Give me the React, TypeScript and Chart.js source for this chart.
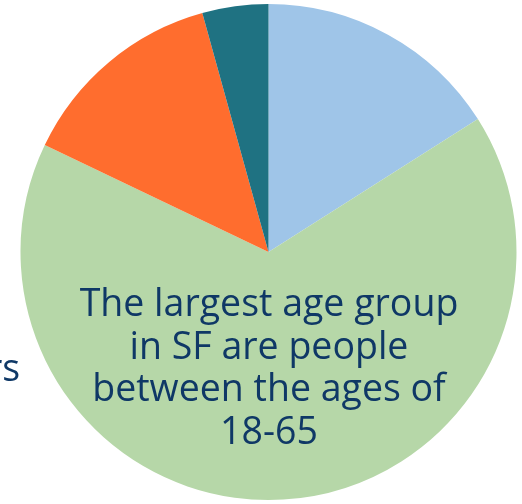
import React, { useEffect, useRef } from "react";
import { Chart, registerables } from "chart.js";

Chart.register(...registerables);

const categories = ["Under 18", "18-65", "Over 65", "Under 5"];
const shares = [16.0, 66.1, 13.6, 4.3];
const colors = ["#9fc5e8", "#b6d7a8", "#ff6d2e", "#1f7282"];
const captionLines = ["The largest age group", "in SF are people", "between the ages of", "18-65"];
const sideText = "rs";

export default function App() {
  const ref = useRef<HTMLCanvasElement | null>(null);

  useEffect(() => {
    document.body.style.margin = "0";
    const ctx = ref.current!.getContext("2d")!;
    const chart = new Chart(ctx, {
      type: "pie",
      data: {
        labels: categories,
        datasets: [
          {
            data: shares,
            backgroundColor: colors,
            borderWidth: 0,
            hoverOffset: 0,
          },
        ],
      },
      options: {
        responsive: false,
        animation: false,
        layout: { padding: { left: 20, right: 5, top: 4, bottom: 4 } },
        plugins: { legend: { display: false }, tooltip: { enabled: false } },
      },
    });
    return () => chart.destroy();
  }, []);

  const font = {
    fontFamily: "'Open Sans', sans-serif",
    fontSize: 37.5,
    color: "#0f3866",
    lineHeight: "42.7px",
    whiteSpace: "nowrap" as const,
  };

  return (
    <div style={{ position: "relative", width: 522, height: 504, overflow: "hidden", background: "#ffffff" }}>
      <canvas ref={ref} width={522} height={504} style={{ position: "absolute", left: 0, top: 0 }} />
      <div style={{ position: "absolute", left: -13, top: 346, ...font }}>{sideText}</div>
      <div style={{ position: "absolute", left: 19, width: 500, top: 281, textAlign: "center", ...font }}>
        {captionLines.map((l, i) => (
          <div key={i}>{l}</div>
        ))}
      </div>
    </div>
  );
}
